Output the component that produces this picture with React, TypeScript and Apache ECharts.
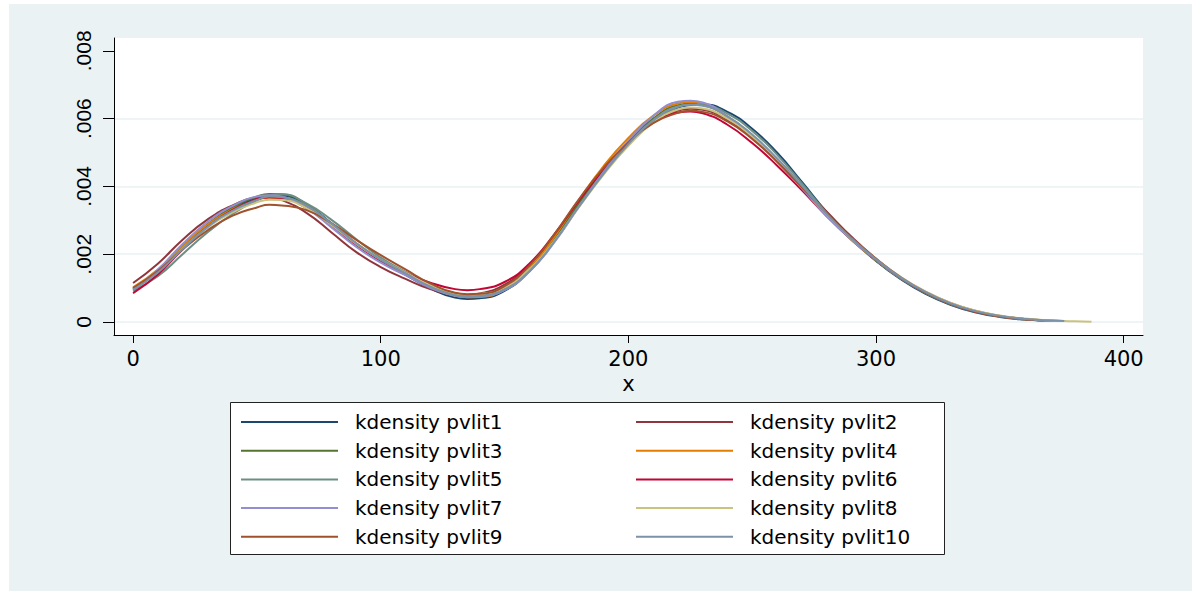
import React, { useEffect, useRef } from "react";
import * as echarts from "echarts";

const seriesNames = [
  "kdensity pvlit1", "kdensity pvlit2", "kdensity pvlit3", "kdensity pvlit4", "kdensity pvlit5",
  "kdensity pvlit6", "kdensity pvlit7", "kdensity pvlit8", "kdensity pvlit9", "kdensity pvlit10",
];
const seriesColors = [
  "#1a476f", "#90353b", "#55752f", "#e37e00", "#6e8e84",
  "#c10534", "#938dd2", "#cac27e", "#a0522d", "#7b92a8",
];

const xGrid = [0, 10, 20, 30, 40, 50, 55, 60, 70, 80, 90, 100, 110, 120, 130, 135, 140, 150, 160, 170, 180, 190,
  200, 210, 220, 225, 230, 240, 250, 260, 270, 280, 290, 300, 310, 320, 330, 340, 350, 360, 370, 380];

const pvlit1 = [0.00097, 0.00148, 0.00218, 0.00282, 0.00332, 0.00368, 0.00375, 0.00373, 0.00346, 0.00292, 0.00232, 0.0018, 0.00139, 0.00099, 0.00072, 0.00068, 0.0007, 0.00092, 0.0015, 0.00238, 0.00342, 0.0044, 0.00525, 0.00592, 0.00633, 0.0064, 0.00642, 0.0062, 0.0057, 0.005, 0.00414, 0.00325, 0.00246, 0.0018, 0.00126, 0.00083, 0.00051, 0.00029, 0.00015, 0.00007];
const pvlit2 = [0.00115, 0.00172, 0.00243, 0.00302, 0.00343, 0.00366, 0.00367, 0.0036, 0.00322, 0.00265, 0.00207, 0.00162, 0.00127, 0.00097, 0.00081, 0.0008, 0.00084, 0.0011, 0.00168, 0.00254, 0.00354, 0.00448, 0.00528, 0.0059, 0.00624, 0.00629, 0.00626, 0.00596, 0.00544, 0.00476, 0.004, 0.00326, 0.00252, 0.00187, 0.00132, 0.00089, 0.00056, 0.00033, 0.00018, 0.00009];
const pvlit3 = [0.001, 0.0015, 0.00222, 0.00288, 0.00338, 0.0037, 0.00378, 0.00377, 0.00347, 0.0029, 0.0023, 0.00181, 0.00143, 0.00104, 0.00078, 0.00074, 0.00076, 0.00098, 0.00156, 0.00246, 0.0035, 0.00448, 0.00532, 0.006, 0.0064, 0.00644, 0.0064, 0.00606, 0.0055, 0.0048, 0.004, 0.00316, 0.00243, 0.00181, 0.00128, 0.00086, 0.00053, 0.00031, 0.00016, 0.00008];
const pvlit4 = [0.00102, 0.00155, 0.00226, 0.00287, 0.00332, 0.0036, 0.00367, 0.00366, 0.0034, 0.0029, 0.00233, 0.00184, 0.00144, 0.00104, 0.00077, 0.00073, 0.00074, 0.00096, 0.00156, 0.0025, 0.0036, 0.0046, 0.00543, 0.00608, 0.00645, 0.00649, 0.00644, 0.00606, 0.00548, 0.00477, 0.00397, 0.00314, 0.00243, 0.00182, 0.00129, 0.00087, 0.00055, 0.00032, 0.00017, 0.00009];
const pvlit5 = [0.00092, 0.00135, 0.002, 0.00264, 0.00318, 0.0036, 0.00373, 0.00377, 0.0035, 0.00302, 0.00245, 0.0019, 0.00148, 0.00109, 0.00082, 0.00075, 0.00077, 0.00095, 0.0015, 0.00238, 0.00342, 0.0044, 0.00525, 0.00594, 0.00634, 0.00641, 0.0064, 0.00615, 0.00564, 0.00494, 0.0041, 0.00322, 0.00246, 0.00182, 0.00128, 0.00085, 0.00053, 0.0003, 0.00016, 0.00008];
const pvlit6 = [0.00085, 0.0014, 0.00214, 0.0028, 0.0033, 0.00362, 0.00368, 0.00366, 0.00336, 0.00284, 0.00228, 0.00181, 0.00146, 0.00116, 0.00097, 0.00094, 0.00097, 0.00118, 0.00172, 0.00258, 0.00358, 0.0045, 0.00528, 0.00588, 0.00618, 0.00621, 0.00616, 0.00582, 0.00528, 0.00462, 0.00389, 0.00313, 0.00244, 0.00184, 0.0013, 0.00087, 0.00054, 0.00031, 0.00017, 0.00009];
const pvlit7 = [0.00095, 0.00154, 0.0023, 0.00295, 0.00342, 0.0037, 0.00374, 0.0037, 0.00336, 0.0028, 0.00222, 0.00175, 0.00138, 0.00101, 0.00077, 0.00073, 0.00075, 0.00094, 0.00148, 0.00234, 0.0034, 0.00443, 0.00535, 0.00608, 0.0065, 0.00653, 0.00648, 0.00606, 0.00546, 0.00475, 0.00395, 0.00313, 0.00243, 0.00184, 0.0013, 0.00088, 0.00055, 0.00032, 0.00017, 0.00009];
const pvlit8 = [0.00098, 0.00148, 0.00217, 0.00278, 0.00323, 0.00353, 0.00361, 0.0036, 0.00336, 0.00287, 0.00231, 0.00184, 0.00146, 0.00109, 0.00085, 0.00081, 0.00083, 0.00102, 0.00154, 0.00238, 0.00338, 0.00435, 0.0052, 0.00588, 0.00627, 0.00633, 0.0063, 0.006, 0.00548, 0.0048, 0.004, 0.00318, 0.00247, 0.00186, 0.00133, 0.0009, 0.00057, 0.00034, 0.00019, 0.0001, 0.00005, 0.00002];
const pvlit9 = [0.001, 0.0015, 0.00214, 0.0027, 0.00313, 0.00338, 0.00346, 0.00344, 0.0033, 0.00292, 0.00243, 0.00197, 0.00155, 0.00114, 0.00086, 0.00082, 0.00083, 0.00106, 0.00166, 0.00258, 0.00362, 0.00455, 0.0053, 0.00587, 0.00617, 0.00623, 0.0062, 0.00592, 0.0054, 0.00473, 0.00398, 0.0032, 0.00249, 0.00186, 0.00131, 0.00087, 0.00054, 0.00031, 0.00016, 0.00008];
const pvlit10 = [0.00095, 0.00146, 0.00215, 0.0028, 0.00328, 0.0036, 0.0037, 0.00368, 0.00343, 0.00291, 0.00233, 0.00184, 0.00144, 0.00104, 0.00078, 0.00074, 0.00076, 0.00096, 0.0015, 0.00236, 0.0034, 0.00438, 0.00525, 0.00595, 0.00636, 0.00641, 0.00638, 0.00607, 0.00553, 0.00483, 0.00403, 0.00319, 0.00247, 0.00185, 0.00131, 0.00088, 0.00055, 0.00032, 0.00018, 0.00009];

const endX = [370, 366, 368, 375, 372, 362, 374, 387, 364, 376];
const endY = [0.00003, 0.00005, 0.00004, 0.00003, 0.00003, 0.00008, 0.00003, 0.00001, 0.00006, 0.00003];

const xTicks = [0, 100, 200, 300, 400];
const yTicks = [0, 0.002, 0.004, 0.006, 0.008];

const allValues = [pvlit1, pvlit2, pvlit3, pvlit4, pvlit5, pvlit6, pvlit7, pvlit8, pvlit9, pvlit10];

export default function App() {
  const ref = useRef<HTMLDivElement>(null);
  useEffect(() => {
    if (!ref.current) return;
    const chart = echarts.init(ref.current, null, { renderer: "svg" });
    const series = allValues.map((vals, i) => {
      const data: number[][] = vals.map((v, j) => [xGrid[j], v]);
      data.push([endX[i], endY[i]]);
      return {
        name: seriesNames[i],
        type: "line",
        data,
        smooth: 0.5,
        symbol: "none",
        showSymbol: false,
        lineStyle: { color: seriesColors[i], width: 2 },
        itemStyle: { color: seriesColors[i] },
        emphasis: { disabled: true },
      };
    });
    const legendText = { fontFamily: "DejaVu Sans", fontSize: 20, color: "#000", padding: [0, 0, 0, 12] };
    const legendCommon = {
      orient: "vertical",
      top: 408,
      padding: 0,
      icon: "path://M0,0H97V2H0Z",
      itemWidth: 97,
      itemHeight: 14,
      itemGap: 8.7,
      textStyle: legendText,
      selectedMode: false,
      z: 5,
    };
    chart.setOption({
      animation: false,
      backgroundColor: "#eaf2f3",
      grid: {
        left: 105, top: 34, width: 1029, height: 297,
        show: true, backgroundColor: "#ffffff", borderWidth: 0,
      },
      xAxis: {
        type: "value",
        min: -7.7,
        max: 407.8,
        name: "x",
        nameLocation: "middle",
        nameGap: 31,
        nameTextStyle: { fontFamily: "DejaVu Sans", fontSize: 21, color: "#000" },
        axisLine: { show: true, onZero: false, lineStyle: { color: "#000", width: 1 } },
        axisTick: { show: true, length: 8, customValues: xTicks, lineStyle: { color: "#000", width: 1 } },
        axisLabel: { customValues: xTicks, margin: 13, fontFamily: "DejaVu Sans", fontSize: 21, color: "#000" },
        splitLine: { show: false },
      },
      yAxis: {
        type: "value",
        min: -0.000384,
        max: 0.00838,
        axisLine: { show: true, onZero: false, lineStyle: { color: "#000", width: 1 } },
        axisTick: { show: true, length: 11, customValues: yTicks, lineStyle: { color: "#000", width: 1 } },
        axisLabel: {
          customValues: yTicks,
          rotate: 90,
          margin: 20,
          fontFamily: "Liberation Sans",
          fontSize: 21,
          color: "#000",
          formatter: (v: number) => (v === 0 ? "0" : String(v).replace(/^0\./, ".")),
        },
        splitLine: {
          show: true,
          lineStyle: { color: ["#eaf2f3", "#eaf2f3", "#eaf2f3", "#eaf2f3", "rgba(0,0,0,0)"], width: 1.5 },
        },
      },
      graphic: [
        {
          type: "rect",
          left: 221,
          top: 398,
          shape: { width: 714, height: 152 },
          style: { fill: "#ffffff", stroke: "#222", lineWidth: 1 },
          z: 0,
        },
      ],
      legend: [
        { ...legendCommon, data: seriesNames.filter((_, i) => i % 2 === 0), left: 232 },
        { ...legendCommon, data: seriesNames.filter((_, i) => i % 2 === 1), left: 627 },
      ],
      series,
    });
    return () => chart.dispose();
  }, []);
  return (
    <div
      ref={ref}
      style={{ position: "absolute", left: 9, top: 4, width: 1183, height: 587 }}
    />
  );
}
